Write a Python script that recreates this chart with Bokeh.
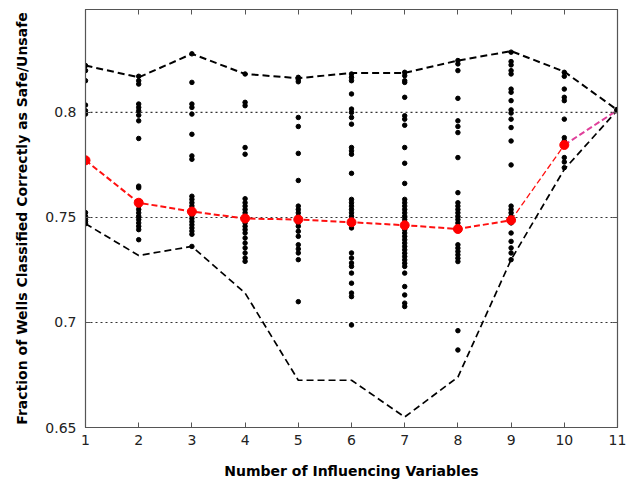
from bokeh.plotting import figure
from bokeh.models import LinearAxis, FixedTicker, Range1d
from bokeh.embed import file_html
from bokeh.resources import INLINE

# ---- data ----
n_vars = [1, 2, 3, 4, 5, 6, 7, 8, 9, 10, 11]
max_frac = [0.8223, 0.8167, 0.8279, 0.8183, 0.8163, 0.8188, 0.8188, 0.8247, 0.8292, 0.8194, 0.8011]
min_frac = [0.7470, 0.7319, 0.7362, 0.7140, 0.6725, 0.6725, 0.6550, 0.6740, 0.7299, 0.7729, 0.8011]
mean_frac = [0.7772, 0.7570, 0.7528, 0.7495, 0.7490, 0.7477, 0.7463, 0.7445, 0.7487, 0.7845, 0.8011]

k1 = [0.8223, 0.8199, 0.8151, 0.8035, 0.8008, 0.7992, 0.7523, 0.7505, 0.7490, 0.7480, 0.7470]
k2 = [0.8172, 0.8151, 0.8135, 0.8040, 0.8024, 0.8008, 0.7987, 0.7960, 0.7876, 0.7649, 0.7641,
      0.7575, 0.7555, 0.7538, 0.7522, 0.7506, 0.7490, 0.7474, 0.7458, 0.7442, 0.7394]
k3 = [0.8279, 0.8143, 0.8040, 0.8024, 0.7992, 0.7896, 0.7793, 0.7777, 0.7601, 0.7586, 0.7570,
      0.7555, 0.7540, 0.7525, 0.7510, 0.7495, 0.7480, 0.7465, 0.7450, 0.7435, 0.7420, 0.7362]
k4 = [0.8183, 0.8048, 0.8032, 0.7833, 0.7801, 0.7589, 0.7570, 0.7554, 0.7538, 0.7522, 0.7506,
      0.7490, 0.7474, 0.7458, 0.7442, 0.7426, 0.7402, 0.7378, 0.7355, 0.7331, 0.7307, 0.7291]
k5 = [0.8167, 0.8156, 0.8146, 0.7976, 0.7933, 0.7805, 0.7676, 0.7554, 0.7538, 0.7522, 0.7506,
      0.7490, 0.7474, 0.7458, 0.7434, 0.7410, 0.7370, 0.7350, 0.7331, 0.7299, 0.7099]
k6 = [0.8183, 0.8167, 0.8151, 0.8088, 0.8016, 0.8000, 0.7976, 0.7944, 0.7833, 0.7817, 0.7801,
      0.7710, 0.7586, 0.7570, 0.7554, 0.7538, 0.7522, 0.7506, 0.7490, 0.7466, 0.7450, 0.7331,
      0.7307, 0.7283, 0.7267, 0.7235, 0.7187, 0.7140, 0.7123, 0.6988]
k7 = [0.8191, 0.8175, 0.8151, 0.8143, 0.8072, 0.7984, 0.7968, 0.7939, 0.7833, 0.7758, 0.7662,
      0.7586, 0.7570, 0.7554, 0.7538, 0.7522, 0.7506, 0.7490, 0.7474, 0.7458, 0.7442, 0.7426,
      0.7410, 0.7394, 0.7378, 0.7362, 0.7346, 0.7330, 0.7314, 0.7298, 0.7282, 0.7267, 0.7235,
      0.7171, 0.7131, 0.7092, 0.7076]
k8 = [0.8247, 0.8231, 0.8199, 0.8067, 0.7960, 0.7933, 0.7904, 0.7785, 0.7618, 0.7570, 0.7554,
      0.7538, 0.7522, 0.7506, 0.7490, 0.7474, 0.7458, 0.7370, 0.7354, 0.7338, 0.7322, 0.7306,
      0.7290, 0.6961, 0.6869]
k9 = [0.8287, 0.8242, 0.8226, 0.8199, 0.8183, 0.8111, 0.8096, 0.8056, 0.8012, 0.7997, 0.7968,
      0.7928, 0.7864, 0.7750, 0.7554, 0.7538, 0.7522, 0.7506, 0.7474, 0.7426, 0.7386, 0.7355,
      0.7331, 0.7299]
k10 = [0.8191, 0.8172, 0.8111, 0.8072, 0.8056, 0.7968, 0.7880, 0.7864, 0.7785, 0.7764, 0.7737]
k11 = [0.8011]

y_ticks = [0.65, 0.7, 0.75, 0.8]
grid_levels = [0.7, 0.75, 0.8]

# ---- build scatter table ----
columns = [k1, k2, k3, k4, k5, k6, k7, k8, k9, k10, k11]
dot_x, dot_y = [], []
for n, vals in zip(n_vars, columns):
    dot_x += [n] * len(vals)
    dot_y += vals

FONT = "DejaVu Sans"

p = figure(width=632, height=481, output_backend="svg", toolbar_location=None, title=None,
           x_range=Range1d(1, 11), y_range=Range1d(0.65, 0.849),
           min_border_left=85, min_border_right=15, min_border_top=9, min_border_bottom=53)
p.background_fill_color = "white"
p.border_fill_color = "white"
p.outline_line_color = "#555555"
p.outline_line_width = 1.2
p.xgrid.visible = False
p.ygrid.visible = False

# dotted horizontal reference lines
for g in grid_levels:
    p.line([n_vars[0], n_vars[-1]], [g, g], line_color="#333333", line_width=1.1, line_dash="2 3")

# max and min envelopes
p.line(n_vars, max_frac, line_color="black", line_width=2, line_dash="7 4")
p.line(n_vars, min_frac, line_color="black", line_width=1.7, line_dash="7 4")

# all runs
p.scatter(dot_x, dot_y, size=4.5, color="black", marker="circle")

# mean curve
p.line(n_vars[:9], mean_frac[:9], line_color="#ff1010", line_width=2, line_dash="6 3")
p.line(n_vars[8:10], mean_frac[8:10], line_color="#ff1010", line_width=1.3, line_dash="6 3")
p.line(n_vars[9:], mean_frac[9:], line_color="#e0409a", line_width=2, line_dash="6 3")
p.scatter(n_vars[:10], mean_frac[:10], size=9, color="#ff0000", marker="circle")
p.scatter(n_vars[10:], mean_frac[10:], size=6, color="black", marker="circle")

# axes
for ax in [p.xaxis[0], p.yaxis[0]]:
    ax.axis_line_color = "#555555"
    ax.major_tick_line_color = "#555555"
    ax.major_tick_in = 5
    ax.major_tick_out = 0
    ax.minor_tick_line_color = None
    ax.major_label_text_font = FONT
    ax.major_label_text_font_size = "14px"
    ax.major_label_text_color = "#222222"
    ax.axis_label_text_font = FONT
    ax.axis_label_text_font_style = "bold"
    ax.axis_label_text_font_size = "14px"
    ax.axis_label_text_color = "black"

p.xaxis[0].ticker = FixedTicker(ticks=n_vars)
p.yaxis[0].ticker = FixedTicker(ticks=y_ticks)
p.yaxis[0].major_label_overrides = {0.65: "0.65", 0.7: "0.7", 0.75: "0.75", 0.8: "0.8"}
p.xaxis[0].axis_label = "Number of Influencing Variables"
p.yaxis[0].axis_label = "Fraction of Wells Classified Correctly as Safe/Unsafe"
p.xaxis[0].major_label_standoff = 7
p.xaxis[0].axis_label_standoff = 15
p.yaxis[0].major_label_standoff = 9
p.yaxis[0].axis_label_standoff = 12

top = LinearAxis(ticker=FixedTicker(ticks=n_vars),
                 major_label_overrides={t: "" for t in n_vars},
                 major_tick_in=5, major_tick_out=0, minor_tick_line_color=None,
                 axis_line_color="#555555", major_tick_line_color="#555555",
                 major_label_standoff=0)
right = LinearAxis(ticker=FixedTicker(ticks=y_ticks),
                   major_label_overrides={t: "" for t in y_ticks},
                   major_tick_in=5, major_tick_out=0, minor_tick_line_color=None,
                   axis_line_color="#555555", major_tick_line_color="#555555",
                   major_label_standoff=0)
p.add_layout(top, "above")
p.add_layout(right, "right")

open("out.html", "w").write(file_html(p, INLINE))
